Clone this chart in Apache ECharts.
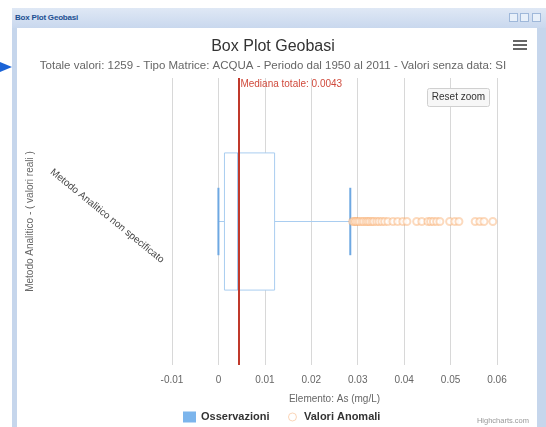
<!DOCTYPE html>
<html>
<head>
<meta charset="utf-8">
<script src="https://cdn.jsdelivr.net/npm/echarts@6/dist/echarts.min.js"></script>
<style>
  html, body { margin: 0; padding: 0; background: #fff; }
  #page { position: relative; width: 546px; height: 427px; overflow: hidden; font-family: "Liberation Sans", Arial, sans-serif; }
  .arrow { position: absolute; left: 0; top: 62px; width: 0; height: 0;
    border-left: 12px solid #1b63d6; border-top: 5px solid transparent; border-bottom: 5px solid transparent; }
  .win { position: absolute; left: 12px; top: 8px; width: 534px; height: 419px; background: #c6d6ec; }
  .bar { position: absolute; left: 0; top: 0; width: 534px; height: 20px;
    background: linear-gradient(#dfe8f5, #c9d8ee); }
  .bar span { position: absolute; left: 3px; top: 5px; font: bold 8px "Liberation Sans", Arial, sans-serif; color: #1d4f91; letter-spacing: -0.2px; }
  .btn { position: absolute; top: 5px; width: 7px; height: 7px; border: 1px solid #9fb8da; background: #e8f0fa; }
  .body { position: absolute; left: 5px; top: 20px; width: 520px; height: 399px; background: #fff; }
  #chart { position: absolute; left: 0; top: 0; width: 546px; height: 427px; z-index: 2; }
</style>
</head>
<body>
<div id="page">
  <div class="arrow"></div>
  <div class="win">
    <div class="bar"><span>Box Plot Geobasi</span>
      <div class="btn" style="left:497px"></div>
      <div class="btn" style="left:508px"></div>
      <div class="btn" style="left:520px"></div>
    </div>
    <div class="body"></div>
  </div>
  <div id="chart"></div>
</div>
<script>
// categories and statistics
var categories = ['Metodo Analitico non specificato'];
// [min, Q1, mediana, Q3, max]
var boxStats = [[0.0, 0.0013, 0.0043, 0.0121, 0.0284]];
// valori anomali
var outliers = [
  0.0289, 0.0293, 0.0296, 0.0300, 0.0304, 0.0309, 0.0313, 0.0318, 0.0322, 0.0326,
  0.0331, 0.0335, 0.0341, 0.0346, 0.0352, 0.0358, 0.0365, 0.0376, 0.0386, 0.0397,
  0.0406, 0.0427, 0.0438, 0.0451, 0.0457, 0.0463, 0.0470, 0.0477, 0.0498, 0.0509,
  0.0518, 0.0553, 0.0563, 0.0572, 0.0591
];
var medianaTotale = 0.0043;
var xMin = -0.01, xMax = 0.06, xStep = 0.01;

var boxData = boxStats.map(function (s, i) { return [i].concat(s); });
var outlierData = outliers.map(function (v) { return [v, 0]; });

var myChart = echarts.init(document.getElementById('chart'), null, { renderer: 'canvas' });

var option = {
  backgroundColor: 'transparent',
  animation: false,
  textStyle: { fontFamily: '"Liberation Sans", Arial, sans-serif' },
  title: {
    text: 'Box Plot Geobasi',
    subtext: 'Totale valori: 1259 - Tipo Matrice: ACQUA - Periodo dal 1950 al 2011 - Valori senza data: SI',
    left: 'center',
    top: 34,
    itemGap: 5,
    textStyle: { fontSize: 16, fontWeight: 'normal', color: '#333' },
    subtextStyle: { fontSize: 11.5, color: '#666' }
  },
  legend: {
    left: 178,
    top: 406,
    itemWidth: 13,
    itemHeight: 11,
    itemGap: 16,
    textStyle: { fontSize: 11, fontWeight: 'bold', color: '#333' },
    data: [
      { name: 'Osservazioni', icon: 'rect', itemStyle: { color: '#7cb5ec' } },
      { name: 'Valori Anomali',
        icon: 'path://M0,0L0.01,0M13,11L13.01,11M10.5,5.5A4,4,0,1,1,2.5,5.5A4,4,0,1,1,10.5,5.5Z',
        itemStyle: { color: 'rgba(0,0,0,0)', borderColor: '#f9cba6', borderWidth: 1 } }
    ]
  },
  grid: { left: 172, right: 49, top: 78, bottom: 62 },
  xAxis: {
    type: 'value',
    min: xMin,
    max: xMax,
    interval: xStep,
    name: 'Elemento: As (mg/L)',
    nameLocation: 'middle',
    nameGap: 29,
    nameTextStyle: { fontSize: 10, color: '#666' },
    axisLine: { show: false },
    axisTick: { show: false },
    axisLabel: {
      fontSize: 10,
      color: '#666',
      margin: 10,
      formatter: function (v) { return String(+v.toFixed(2)); }
    },
    splitLine: { lineStyle: { color: '#d8d8d8', width: 1 } }
  },
  yAxis: {
    type: 'category',
    data: categories,
    name: 'Metodo Analitico - ( valori reali )',
    nameLocation: 'middle',
    nameRotate: 90,
    nameGap: 137,
    nameTextStyle: { fontSize: 10, color: '#666' },
    axisLine: { show: false },
    axisTick: { show: false },
    splitLine: { show: false },
    axisLabel: {
      rotate: -39,
      fontSize: 10,
      color: '#444',
      margin: -23,
      align: 'right',
      verticalAlign: 'top',
      padding: [46, 0, 0, 0]
    }
  },
  series: [
    {
      name: 'Osservazioni',
      type: 'custom',
      itemStyle: { color: '#7cb5ec' },
      encode: { x: [1, 2, 3, 4, 5], y: 0 },
      data: boxData,
      renderItem: function (params, api) {
        var cat = api.value(0);
        var lo = api.coord([api.value(1), cat]);
        var q1 = api.coord([api.value(2), cat]);
        var md = api.coord([api.value(3), cat]);
        var q3 = api.coord([api.value(4), cat]);
        var hi = api.coord([api.value(5), cat]);
        var band = api.size([0, 1])[1];
        var bh = band * 0.478, ch = band * 0.235;
        var y = lo[1];
        var thin = { stroke: '#a9cdf0', lineWidth: 1 };
        var cap = { stroke: '#6ea8e2', lineWidth: 2 };
        return {
          type: 'group',
          children: [
            { type: 'line', shape: { x1: lo[0], y1: y, x2: q1[0], y2: y }, style: thin },
            { type: 'line', shape: { x1: q3[0], y1: y, x2: hi[0], y2: y }, style: thin },
            { type: 'rect', shape: { x: q1[0], y: y - bh / 2, width: q3[0] - q1[0], height: bh },
              style: { fill: '#fff', stroke: '#a9cdf0', lineWidth: 1 } },
            { type: 'line', shape: { x1: md[0], y1: y - bh / 2, x2: md[0], y2: y + bh / 2 }, style: cap },
            { type: 'line', shape: { x1: lo[0], y1: y - ch / 2, x2: lo[0], y2: y + ch / 2 }, style: cap },
            { type: 'line', shape: { x1: hi[0], y1: y - ch / 2, x2: hi[0], y2: y + ch / 2 }, style: cap }
          ]
        };
      }
    },
    {
      name: 'Valori Anomali',
      type: 'scatter',
      symbol: 'emptyCircle',
      symbolSize: 7,
      itemStyle: { color: 'rgba(247,163,92,0.5)', borderColor: 'rgba(247,163,92,0.5)', borderWidth: 1 },
      data: outlierData,
      markLine: {
        silent: true,
        symbol: 'none',
        precision: 4,
        label: { show: false },
        lineStyle: { color: '#c0392b', width: 2, type: 'solid' },
        data: [{ xAxis: medianaTotale }]
      }
    }
  ]
};
myChart.setOption(option);

// etichetta della mediana, reset zoom, menu e credits
var mp = myChart.convertToPixel({ xAxisIndex: 0 }, medianaTotale);
myChart.setOption({
  graphic: [
    { type: 'text', left: mp + 2, top: 79,
      style: { text: 'Mediana totale: ' + medianaTotale, fontSize: 10, fill: '#d04a3c', fontFamily: '"Liberation Sans", Arial, sans-serif' } },
    { type: 'group', left: 427, top: 88, children: [
      { type: 'rect', shape: { x: 0, y: 0, width: 62, height: 18, r: 2 }, style: { fill: '#f7f7f7', stroke: '#d0d0d0' } },
      { type: 'text', x: 31, y: 9, style: { text: 'Reset zoom', fontSize: 10, fill: '#333', align: 'center', verticalAlign: 'middle', fontFamily: '"Liberation Sans", Arial, sans-serif' } }
    ] },
    { type: 'group', left: 513, top: 40, children: [
      { type: 'rect', shape: { x: 0, y: 0, width: 14, height: 2 }, style: { fill: '#666' } },
      { type: 'rect', shape: { x: 0, y: 4, width: 14, height: 2 }, style: { fill: '#666' } },
      { type: 'rect', shape: { x: 0, y: 8, width: 14, height: 2 }, style: { fill: '#666' } }
    ] },
    { type: 'text', right: 17, top: 417,
      style: { text: 'Highcharts.com', fontSize: 7.5, fill: '#999', fontFamily: '"Liberation Sans", Arial, sans-serif' } }
  ]
});
</script>
</body>
</html>
